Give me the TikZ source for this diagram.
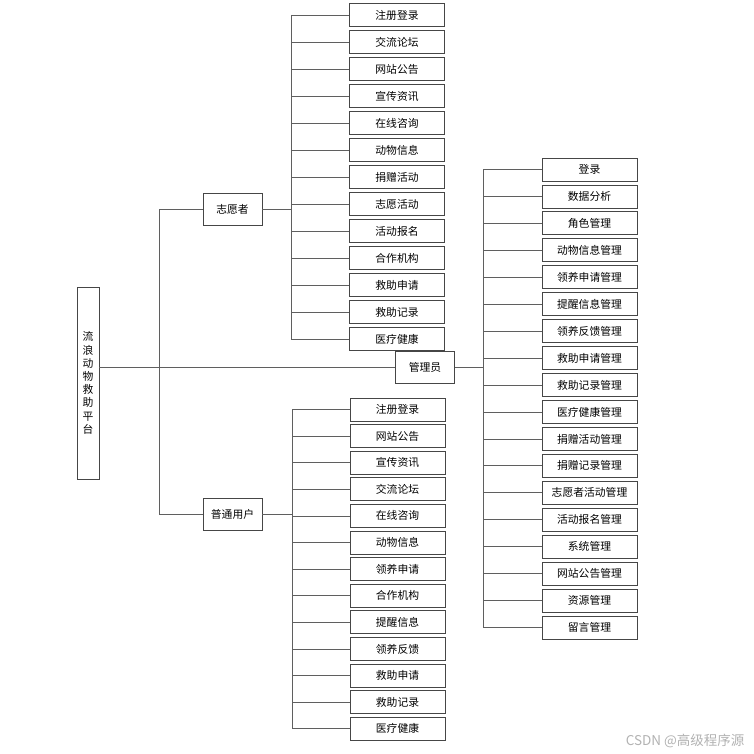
\documentclass[tikz,border=0pt]{standalone}
\usepackage{fontspec}
\newfontfamily\cjk{Noto Sans CJK SC}
\usetikzlibrary{positioning, calc}
\definecolor{boxline}{RGB}{70, 70, 70}
\definecolor{linkgray}{RGB}{95, 95, 95}

\tikzset{
  leaf/.style={draw=boxline, line width=0.8pt, fill=white, minimum width=95pt, minimum height=23pt,
    inner sep=0pt, font=\cjk\fontsize{10.8}{12}\selectfont},
  role/.style={leaf, minimum width=59pt, minimum height=32pt},
  link/.style={draw=linkgray, line width=0.8pt}
}

\begin{document}
\begin{tikzpicture}[x=1pt, y=-1pt]
\useasboundingbox (0,0) rectangle (753,754);

% --- Raíz y roles ---
\node[leaf, minimum width=22pt, minimum height=192pt, align=center,
      font=\cjk\fontsize{10.8}{13.2}\selectfont] (root) at (88, 383)
      {流\\浪\\动\\物\\救\\助\\平\\台};
\node[role] (vol) at (232.5, 209.5) {志愿者};
\node[role] (mgr) at (425, 367) {管理员};
\node[role] (usr) at (232.5, 514.5) {普通用户};

% Buses verticales
\coordinate (mbus) at (159, 0);
\coordinate (vbus) at (291, 0);
\coordinate (ubus) at (292, 0);
\coordinate (abus) at (483, 0);

% --- Tronco principal ---
\draw[link] (root.east |- mgr.west) -- (mgr.west);
\draw[link] (mbus |- vol) -- (mbus |- usr);
\draw[link] (mbus |- vol) -- (vol.west);
\draw[link] (mbus |- usr) -- (usr.west);

% --- Funciones del voluntario ---
\foreach \t [count=\i from 0] in {注册登录, 交流论坛, 网站公告, 宣传资讯, 在线咨询, 动物信息, 捐赠活动,
    志愿活动, 活动报名, 合作机构, 救助申请, 救助记录, 医疗健康} {
    \node[leaf] (v\i) at (397, 15+27*\i) {\t};
    \draw[link] (vbus |- v\i) -- (v\i.west);
}
\draw[link] (vbus |- v0) -- (vbus |- v12);
\draw[link] (vol.east) -- (vbus |- vol);

% --- Funciones del usuario ---
\foreach \t [count=\i from 0] in {注册登录, 网站公告, 宣传资讯, 交流论坛, 在线咨询, 动物信息, 领养申请,
    合作机构, 提醒信息, 领养反馈, 救助申请, 救助记录, 医疗健康} {
    \node[leaf] (u\i) at (397.5, 409.5+26.6*\i) {\t};
    \draw[link] (ubus |- u\i) -- (u\i.west);
}
\draw[link] (ubus |- u0) -- (ubus |- u12);
\draw[link] (usr.east) -- (ubus |- usr);

% --- Funciones del administrador ---
\foreach \t [count=\i from 0] in {登录, 数据分析, 角色管理, 动物信息管理, 领养申请管理, 提醒信息管理,
    领养反馈管理, 救助申请管理, 救助记录管理, 医疗健康管理, 捐赠活动管理, 捐赠记录管理,
    志愿者活动管理, 活动报名管理, 系统管理, 网站公告管理, 资源管理, 留言管理} {
    \node[leaf] (a\i) at (589.5, 169.5+26.94*\i) {\t};
    \draw[link] (abus |- a\i) -- (a\i.west);
}
\draw[link] (abus |- a0) -- (abus |- a17);
\draw[link] (mgr.east) -- (abus |- mgr);

% Marca de agua
\node[anchor=east, text=black!30, font=\cjk\fontsize{13.5}{15}\selectfont] (mark) at (748, 741) {CSDN @高级程序源};

\end{tikzpicture}
\end{document}
